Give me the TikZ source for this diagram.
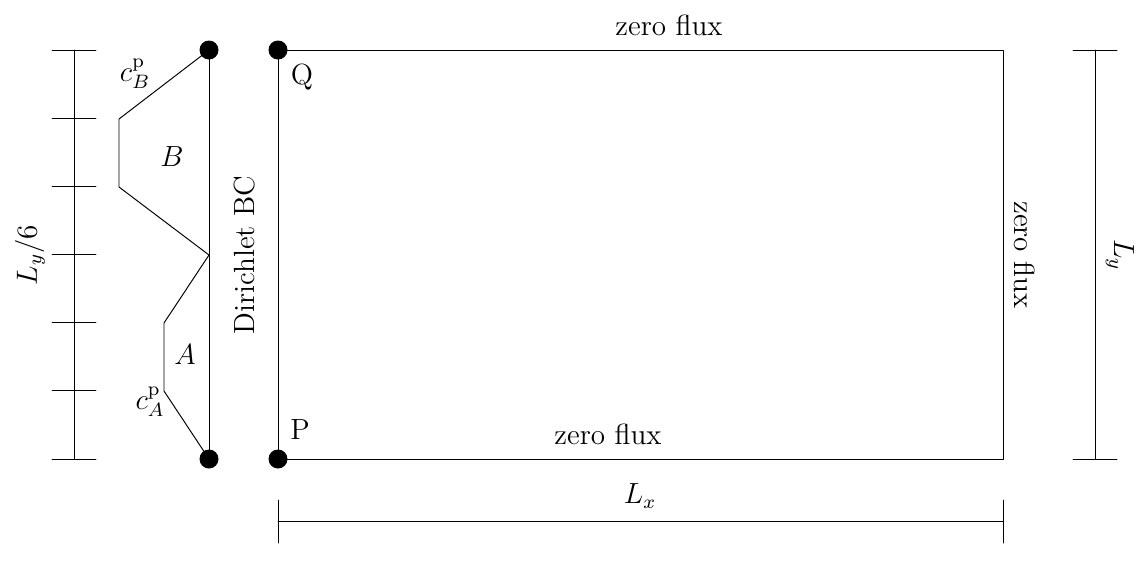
\documentclass[tikz,border=0pt]{standalone}
\begin{document}
\begin{tikzpicture}[x=0.4115pt,y=-0.4115pt,line cap=round,line join=round,
  every node/.style={font=\large}]
  \useasboundingbox (0,0) rectangle (1139,570);
  % domain corners
  \coordinate (P) at (278,459);
  \coordinate (Q) at (278,50);
  \coordinate (R) at (1003,50);
  \coordinate (S) at (1003,459);
  \coordinate (U) at (209,50);
  \coordinate (D) at (209,459);
  \draw (P) -- (Q) -- (R) -- (S) -- cycle;
  % inflow profile
  \draw (U) -- (D);
  \draw (U) -- (119,119) -- (119,187) -- (209,255) -- (164,323) -- (164,391) -- (D);
  \foreach \p in {P,Q,U,D}
    \fill (\p) circle[radius=9.5];
  % left scale, six parts
  \draw (74,50) -- (74,459);
  \foreach \y in {50,118.2,186.3,254.5,322.7,390.8,459}
    \draw (52,\y) -- (96,\y);
  % right scale
  \draw (1095,50) -- (1095,459);
  \draw (1073,50) -- (1117,50);
  \draw (1073,459) -- (1117,459);
  % bottom scale
  \draw (278,521) -- (1003,521);
  \draw (278,500) -- (278,543);
  \draw (1003,500) -- (1003,543);
  % labels
  \node (ztop) at (669,25) {zero flux};
  \node (zbot) at (608,434) {zero flux};
  \node[rotate=-90] (zright) at (1025,255) {zero flux};
  \node[rotate=-90] (ly) at (1120,255) {$L_y$};
  \node[rotate=90] (ly6) at (30,255) {$L_y/6$};
  \node[rotate=90] (bc) at (245,255) {Dirichlet BC};
  \node (lq) at (302,77) {Q};
  \node (lp) at (300,430) {P};
  \node (lb) at (172,157) {$B$};
  \node (la) at (185,355) {$A$};
  \node (cb) at (135,74) {$c_B^{\mathrm{p}}$};
  \node (ca) at (150,402) {$c_A^{\mathrm{p}}$};
  \node (lx) at (640,496) {$L_x$};
\end{tikzpicture}
\end{document}
